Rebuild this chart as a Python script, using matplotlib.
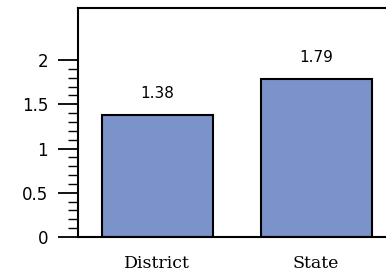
import matplotlib
matplotlib.use('Agg')
import matplotlib.pyplot as plt
import numpy as np

categories = ['District', 'State']
values = [1.38, 1.79]
value_labels = ['1.38', '1.79']
major_ticks = [0, 0.5, 1, 1.5, 2]
minor_ticks = [round(t, 1) for t in np.arange(0.1, 2.0, 0.1) if round(t * 10) % 5 != 0]

fig = plt.figure(figsize=(3.86, 2.76), dpi=100)
ax = fig.add_axes([0.202, 0.1413, 0.8225, 0.830])

xs = range(len(categories))
ax.bar(xs, values, width=0.70, color='#7b93c9', edgecolor='black', linewidth=1.5)
for x, v, lab in zip(xs, values, value_labels):
    ax.text(x, v + 0.16, lab, ha='center', va='bottom', fontsize=11,
            family='DejaVu Sans')

ax.set_xlim(-0.5, 1.5)
ax.set_ylim(0, 2.59)
ax.set_xticks(list(xs))
ax.set_xticklabels(categories, family='DejaVu Serif', fontsize=12.5)
ax.tick_params(axis='x', length=0, pad=13)

ax.set_yticks(major_ticks)
ax.set_yticks(minor_ticks, minor=True)
ax.set_yticklabels(['0', '0.5', '1', '1.5', '2'], family='DejaVu Sans', fontsize=12)
ax.tick_params(axis='y', which='major', length=14.4, width=1.3, pad=7, direction='out')
ax.tick_params(axis='y', which='minor', length=7.2, width=1.0, direction='out')

ax.spines['right'].set_visible(False)
for s in ['left', 'top', 'bottom']:
    ax.spines[s].set_linewidth(1.5)

fig.savefig('out.png', dpi=100)
